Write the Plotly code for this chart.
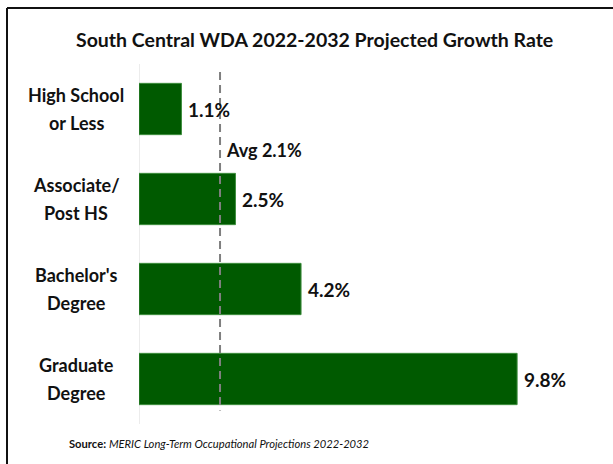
import plotly.graph_objects as go

# Projected growth by education level
category_lines = [
    ["High School", "or Less"],
    ["Associate/", "Post HS"],
    ["Bachelor's", "Degree"],
    ["Graduate", "Degree"],
]
growth = [1.1, 2.5, 4.2, 9.8]
value_labels = ["1.1%", "2.5%", "4.2%", "9.8%"]
avg_growth = 2.1
avg_label = "Avg 2.1%"

title_text = "South Central WDA 2022-2032 Projected Growth Rate"
source_text = "<b>Source:</b> <i>MERIC Long-Term Occupational Projections 2022-2032</i>"

FONT = "Lato"
INK = "#111111"
BAR_FILL = "#005A00"
BAR_EDGE = "#3E8E3E"

W, H = 613, 464
ML, MR, MT, MB = 139, 11, 64, 40
PW, PH = W - ML - MR, H - MT - MB


def px_x(x):
    return (x - ML) / PW


def px_y(y):
    return (H - MB - y) / PH


idx = list(range(len(growth)))

fig = go.Figure()
fig.add_trace(go.Bar(
    x=growth,
    y=idx,
    orientation="h",
    marker=dict(color=BAR_FILL, line=dict(color=BAR_EDGE, width=1)),
    width=0.57,
    hoverinfo="skip",
))

# Value labels just past each bar end
for i, (v, lab) in enumerate(zip(growth, value_labels)):
    fig.add_annotation(
        x=v, y=i, xref="x", yref="y",
        text=f"<b>{lab}</b>", showarrow=False,
        xanchor="left", yanchor="middle", xshift=5,
        font=dict(family=FONT, size=19, color=INK),
    )

# Category labels: two centred lines per bar
for i, lines in enumerate(category_lines):
    for j, line in enumerate(lines):
        fig.add_annotation(
            x=px_x(76), y=i, xref="paper", yref="y",
            text=f"<b>{line}</b>", showarrow=False,
            xanchor="center", yanchor="middle",
            yshift=14 if j == 0 else -14,
            font=dict(family=FONT, size=18, color=INK),
        )

# Average reference line
fig.add_shape(
    type="line", xref="x", yref="y",
    x0=avg_growth, x1=avg_growth, y0=-0.41, y1=3.35,
    line=dict(color="#7F7F7F", width=2, dash="8px,5px"),
)
fig.add_annotation(
    x=avg_growth, y=0.46, xref="x", yref="y",
    text=f"<b>{avg_label}</b>", showarrow=False,
    xanchor="left", yanchor="middle", xshift=4,
    font=dict(family=FONT, size=18, color=INK),
)

# Title and source
fig.add_annotation(
    x=px_x(314), y=px_y(39), xref="paper", yref="paper",
    text=f"<b>{title_text}</b>", showarrow=False,
    font=dict(family=FONT, size=19.5, color=INK),
    xanchor="center", yanchor="middle",
)
fig.add_annotation(
    x=px_x(67), y=px_y(443), xref="paper", yref="paper",
    text=source_text, showarrow=False,
    font=dict(family=FONT, size=11.2, color=INK),
    xanchor="left", yanchor="middle",
)

# Axis line at zero spanning the plot height
fig.add_shape(type="line", xref="x", yref="paper", x0=0, x1=0, y0=0, y1=1,
              line=dict(color="#D9D9D9", width=1), layer="below")

# Partial frame: top and left borders
fig.add_shape(type="line", xref="paper", yref="paper",
              x0=px_x(7), x1=px_x(W), y0=px_y(8), y1=px_y(8),
              line=dict(color=INK, width=2))
fig.add_shape(type="line", xref="paper", yref="paper",
              x0=px_x(7), x1=px_x(7), y0=px_y(8), y1=px_y(H + 5),
              line=dict(color=INK, width=2))

fig.update_layout(
    width=W, height=H,
    margin=dict(l=ML, r=MR, t=MT, b=MB),
    paper_bgcolor="white", plot_bgcolor="white",
    showlegend=False,
    xaxis=dict(range=[0, 12], visible=False, fixedrange=True),
    yaxis=dict(
        range=[3.5, -0.5], showticklabels=False, showgrid=False,
        zeroline=False, showline=False, ticks="", fixedrange=True,
    ),
)

fig.write_html("out.html", config={"displayModeBar": False})
